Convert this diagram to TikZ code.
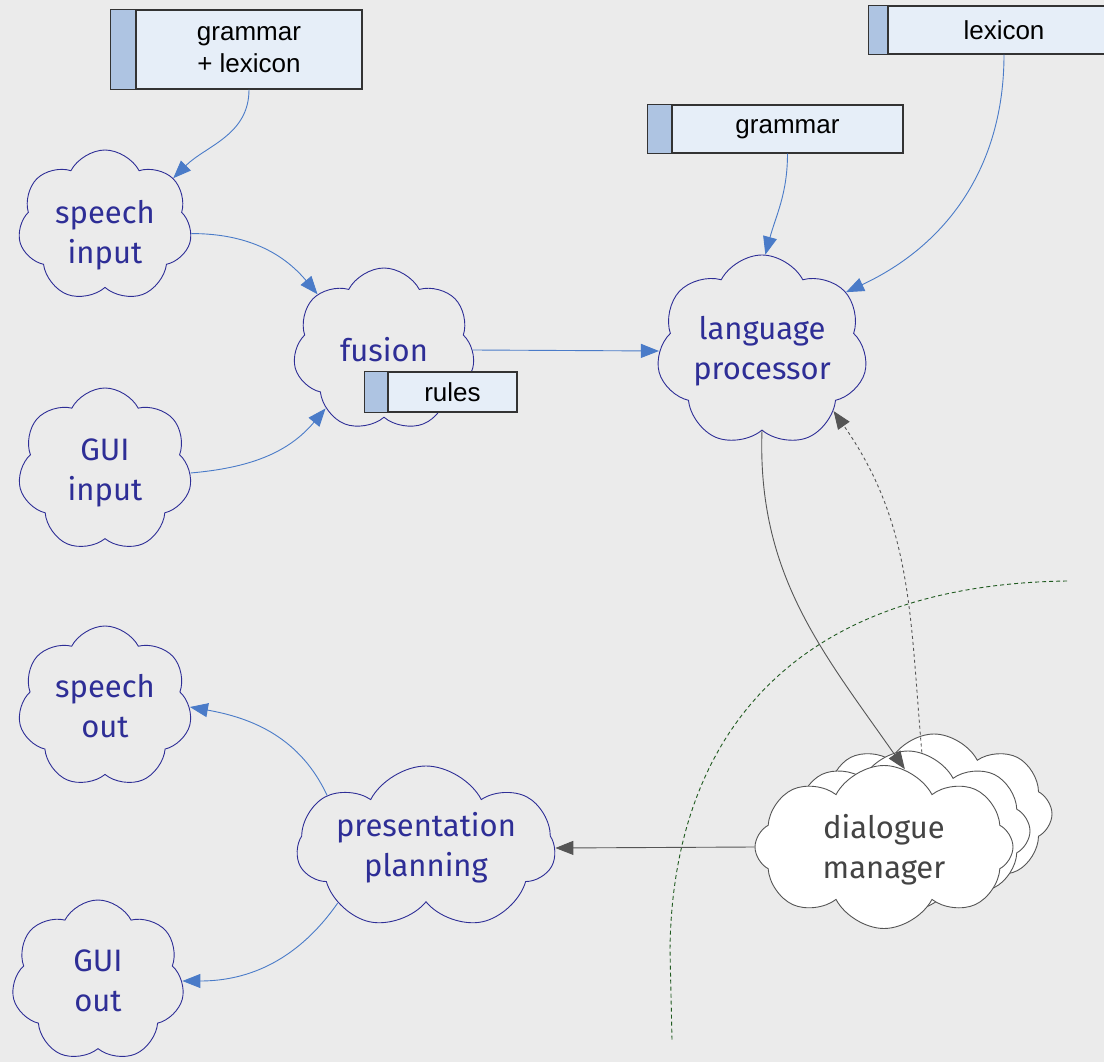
\documentclass[tikz,border=0pt]{standalone}
\usepackage{fontspec}
\setmainfont{Liberation Sans}
\newfontfamily\cloudfont{Fira Sans}
\usetikzlibrary{shapes.symbols,arrows.meta,calc}

\definecolor{paper}{HTML}{EBEBEB}
\definecolor{inkblue}{HTML}{2E2E96}
\definecolor{linkblue}{HTML}{4A7BC8}
\definecolor{bodyfill}{HTML}{E6EEF8}
\definecolor{tabfill}{HTML}{AEC4E2}
\definecolor{edgegray}{HTML}{333333}
\definecolor{flowgray}{HTML}{555555}
\definecolor{dmink}{HTML}{444444}
\definecolor{bordergreen}{HTML}{1F5A1F}

\tikzset{
  x=1pt, y=1pt,
  puff/.style={cloud, cloud puffs=7, cloud puff arc=125, cloud ignores aspect,
    inner sep=0pt, draw=inkblue, line width=0.9pt},
  ctext/.style={font=\cloudfont\fontsize{31}{40}\selectfont, text=inkblue, align=center},
  dmpuff/.style={cloud, cloud puffs=8, cloud puff arc=125, cloud ignores aspect,
    inner sep=0pt, draw=flowgray, fill=white, line width=0.9pt},
  dmtext/.style={font=\cloudfont\fontsize{31}{40}\selectfont, text=dmink, align=center,
    yshift=-3pt},
  docbody/.style={rectangle, draw=edgegray, fill=bodyfill, line width=1.3pt, inner sep=0pt,
    font=\fontsize{26}{32}\selectfont, align=center},
  doctab/.style={draw=edgegray, fill=tabfill, line width=1.3pt},
  link/.style={draw=linkblue, line width=0.9pt, -{Triangle[length=18pt,width=14pt]}},
  flow/.style={draw=flowgray, line width=0.9pt, -{Triangle[length=18pt,width=14pt]}},
}

\newcommand{\docbox}[7]{%
  \node[docbody, minimum width=#4, minimum height=#5] (#1) at (#2,#3) {#7};
  \draw[doctab] (#1.north west) rectangle ($(#1.south west)+(-#6,0)$);
}

\begin{document}
\begin{tikzpicture}
  \fill[paper] (0,0) rectangle (1104,-1062);
  \useasboundingbox (0,0) rectangle (1104,-1062);
  \clip (0,0) rectangle (1104,-1062);

  % knowledge sources
  \docbox{gl}{249}{-49.5}{226}{79}{25}{grammar\\+ lexicon}
  \docbox{gr}{787.5}{-129}{231}{48}{24}{grammar}
  \docbox{lx}{1004}{-30}{232}{48}{19}{lexicon}

  % input side
  \node[puff, minimum width=174, minimum height=152,
        label={[ctext, yshift=-9pt]center:speech\\input}] (si) at (105,-226) {};
  \node[puff, minimum width=174, minimum height=164,
        label={[ctext, yshift=-3pt]center:GUI\\input}] (gi) at (105,-470) {};
  \node[puff, minimum width=182, minimum height=164,
        label={[ctext]center:fusion}] (fu) at (384,-350) {};
  \docbox{ru}{452.5}{-392}{129}{40}{23}{rules}

  \node[puff, minimum width=211, minimum height=192,
        label={[ctext]center:language\\processor}] (lp) at (762,-351) {};

  % output side
  \node[puff, minimum width=174, minimum height=162,
        label={[ctext, yshift=1pt]center:speech\\out}] (so) at (105,-707) {};
  \node[puff, minimum width=173, minimum height=162,
        label={[ctext]center:GUI\\out}] (go) at (98,-981) {};
  \node[puff, minimum width=258, minimum height=164,
        label={[ctext]center:presentation\\planning}] (pp) at (426,-848) {};

  % stacked dialogue managers
  \node[dmpuff, minimum width=236, minimum height=160] (dmc) at (934,-814) {};
  \node[dmpuff, minimum width=244, minimum height=160] (dmb) at (908,-831) {};
  \node[dmpuff, minimum width=258, minimum height=163,
        label={[dmtext]center:dialogue\\manager}] (dm) at (884,-847) {};

  % green boundary
  \coordinate (bA) at (1067,-581);
  \coordinate (bB) at (670,-950);
  \coordinate (bC) at (672,-1040);
  \draw[bordergreen, line width=0.9pt, dash pattern=on 4pt off 3pt]
    (bA) .. controls (780,-585) and (672,-750) .. (bB) -- (bC);

  % connectors
  \draw[link] (gl.south) to[out=-90, in=45] (si.35);
  \draw[link] (si.-5) to[out=0, in=130] (fu.140);
  \draw[link] (gi.-2) to[out=5, in=-130] (fu.225);
  \draw[link] (fu.0) -- (lp.180);
  \draw[link] (gr.south) to[out=-90, in=75] (lp.88);
  \draw[link] (lx.south) to[out=-90, in=25] (lp.35);

  \draw[flow] (lp.south) to[out=-92, in=125] (dm.75);
  \draw[flow, dashed] (dmb.80) to[out=95, in=-55] (lp.-40);
  \draw[flow] (dm.180) -- (pp.0);

  \draw[link] (pp.152) to[out=115, in=-10] (so.0);
  \draw[link] (pp.212) to[out=-125, in=0] (go.0);
\end{tikzpicture}
\end{document}
